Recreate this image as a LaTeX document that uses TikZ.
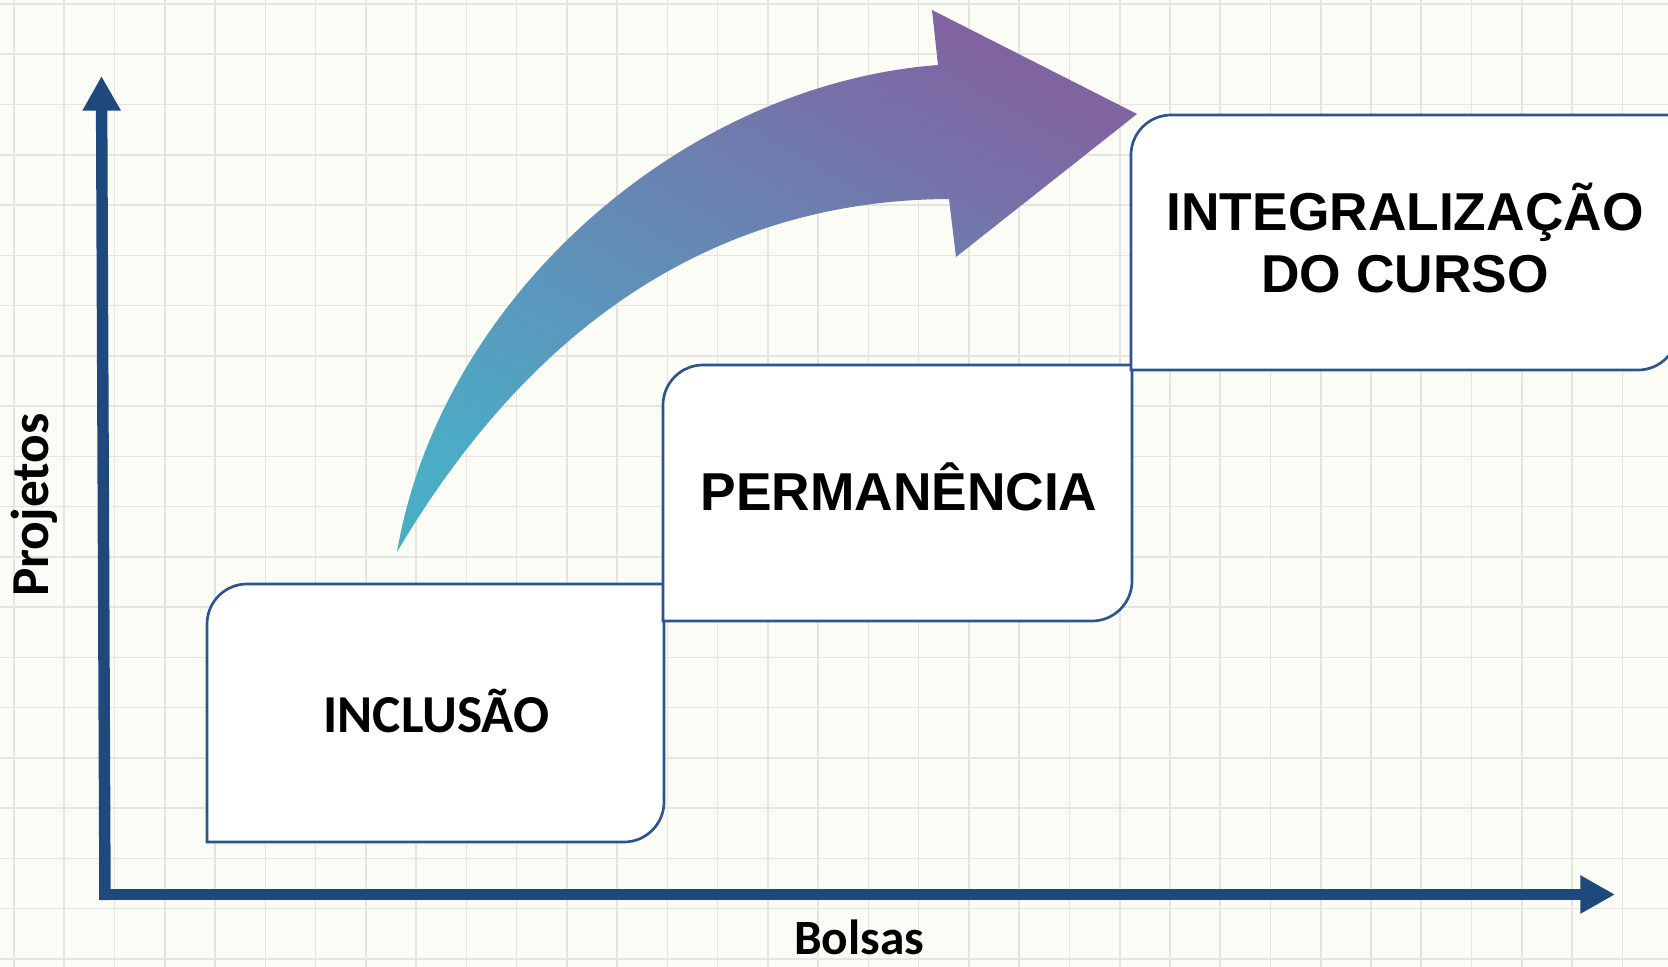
\documentclass[tikz,border=0pt]{standalone}
\usepackage{fontspec}
\setmainfont{Liberation Sans}
\newfontfamily\calibrifont{Carlito}
\usetikzlibrary{arrows.meta}

\definecolor{axisblue}{RGB}{31,73,125}
\definecolor{boxblue}{RGB}{44,84,143}
\definecolor{gridgray}{RGB}{229,229,223}
\definecolor{paper}{RGB}{252,252,247}
\definecolor{arrowcyan}{RGB}{75,172,198}
\definecolor{arrowpurple}{RGB}{128,100,162}

\tikzset{every picture/.style={line width=0.75pt}}
\tikzset{
  gridline/.style={draw=gridgray, line width=1.2pt},
  axisline/.style={draw=axisblue, line width=8.6pt, -{Triangle[length=26pt,width=27pt]}},
  stepbox/.style={draw=boxblue, line width=2pt, fill=white},
  growarrow/.style={top color=arrowpurple, bottom color=arrowcyan, shading angle=-30},
  calibrilabel/.style={inner sep=0.75pt, anchor=base, font=\calibrifont\bfseries\fontsize{40}{48}\selectfont},
  ariallabel/.style={inner sep=0.75pt, align=center, font=\bfseries\fontsize{40}{46.5}\selectfont}
}

\begin{document}
\begin{tikzpicture}[x=0.75pt,y=0.75pt,yscale=-1,xscale=1]
\useasboundingbox (0,0) rectangle (1668,967);
\fill [paper] (0,0) rectangle (1668,967);

%Grid
\foreach \gx in {0,...,32} \draw [gridline] ({14+50.26*\gx},0) -- ({14+50.26*\gx},967);
\foreach \gy in {0,...,19} \draw [gridline] (0,{4+50.26*\gy}) -- (1668,{4+50.26*\gy});

%Axes
\coordinate (origin) at (105,900);
\coordinate (ytip) at (101.5,76);
\coordinate (xstart) at (99,894.5);
\coordinate (xtip) at (1615,894.5);
\draw [axisline] (origin) -- (ytip) ;
\draw [axisline] (xstart) -- (xtip) ;

%Shape: Round Diagonal Corner Rectangle [id:inclusao]
\draw [stepbox] (207,842) -- (207,624) .. controls (207,602) and (225,584) .. (247,584) -- (664,584) -- (664,802) .. controls (664,824) and (646,842) .. (624,842) -- cycle ;
%Shape: Round Diagonal Corner Rectangle [id:permanencia]
\draw [stepbox] (663,621) -- (663,405) .. controls (663,383) and (681,365) .. (703,365) -- (1132,365) -- (1132,581) .. controls (1132,603) and (1114,621) .. (1092,621) -- cycle ;
%Shape: Round Diagonal Corner Rectangle [id:integralizacao]
\draw [stepbox] (1131,370) -- (1131,155) .. controls (1131,133) and (1149,115) .. (1171,115) -- (1678,115) -- (1678,330) .. controls (1678,352) and (1660,370) .. (1638,370) -- cycle ;

%Curved Arrow
\coordinate (tail) at (397,552);
\shade [growarrow] (tail) .. controls (440,300) and (680,85) .. (938,65) -- (932,10) -- (1137,114) -- (956,257) -- (949,199) .. controls (730,200) and (540,310) .. (tail) -- cycle ;

% Text Node
\draw (436.5,732) node (incl) [calibrilabel] {INCLUSÃO};
% Text Node
\draw (899,510) node (perm) [ariallabel, anchor=base] {PERMANÊNCIA};
% Text Node
\draw (1405,238) node (integ) [ariallabel] {INTEGRALIZAÇÃO\\DO CURSO};
% Text Node
\draw (48,505) node (projetos) [calibrilabel, rotate=90] {Projetos};
% Text Node
\draw (859,954) node (bolsas) [calibrilabel, inner sep=0pt, font=\calibrifont\bfseries\fontsize{37}{44}\selectfont] {Bolsas};

\end{tikzpicture}
\end{document}
